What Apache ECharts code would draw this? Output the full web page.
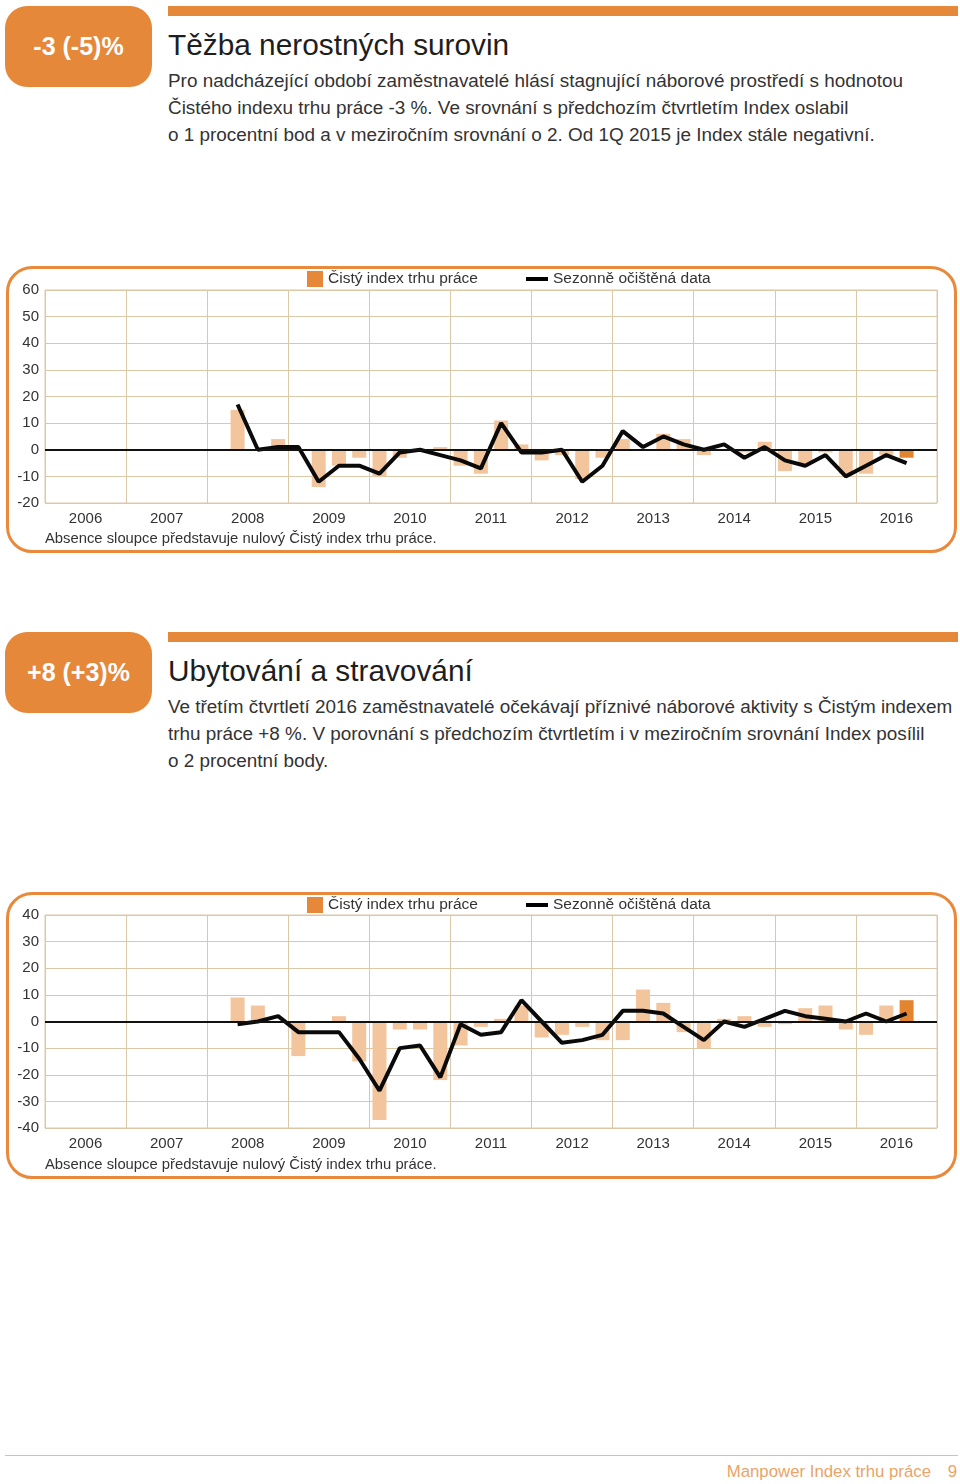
<!DOCTYPE html>
<html>
<head>
<meta charset="utf-8">
<script src="https://cdn.jsdelivr.net/npm/echarts@6/dist/echarts.min.js"></script>
<style>
  html, body { margin:0; padding:0; background:#fff; }
  body { width:960px; height:1484px; position:relative; overflow:hidden;
         font-family:"Liberation Sans", Arial, sans-serif; color:#2a2a2a; }
  .abs { position:absolute; white-space:nowrap; }
  .badge { background:#e5883a; border-radius:22px; color:#fff; font-weight:bold;
           font-size:25px; display:flex; align-items:center; justify-content:center; }
  .topbar { background:#e5883a; }
  .title { font-size:29.8px; color:#1e1e1e; line-height:34px; }
  .para { font-size:18.9px; color:#333; line-height:27px; }
  .box { border:3px solid #e8893c; border-radius:26px; box-sizing:border-box; }
  .note { font-size:14.8px; color:#333; line-height:18px; }
  .chart { position:absolute; left:0; width:960px; height:265px; }
</style>
</head>
<body>
<!-- Section 1 -->
<div class="abs badge" style="left:5px;top:6px;width:147px;height:81px;">-3 (-5)%</div>
<div class="abs topbar" style="left:168px;top:6px;width:790px;height:10px;"></div>
<div class="abs title" style="left:168px;top:28px;">Těžba nerostných surovin</div>
<div class="abs para" style="left:168px;top:67px;">Pro nadcházející období zaměstnavatelé hlásí stagnující náborové prostředí s hodnotou<br>Čistého indexu trhu práce -3 %. Ve srovnání s předchozím čtvrtletím Index oslabil<br>o 1 procentní bod a v meziročním srovnání o 2. Od 1Q 2015 je Index stále negativní.</div>
<div class="abs box" style="left:6px;top:266px;width:951px;height:287px;"></div>
<div id="c1" class="chart" style="top:266px;"></div>
<div class="abs note" style="left:45px;top:529px;">Absence sloupce představuje nulový Čistý index trhu práce.</div>

<!-- Section 2 -->
<div class="abs badge" style="left:5px;top:632px;width:147px;height:81px;">+8 (+3)%</div>
<div class="abs topbar" style="left:168px;top:632px;width:790px;height:10px;"></div>
<div class="abs title" style="left:168px;top:654px;">Ubytování a stravování</div>
<div class="abs para" style="left:168px;top:693px;">Ve třetím čtvrtletí 2016 zaměstnavatelé očekávají příznivé náborové aktivity s Čistým indexem<br>trhu práce +8 %. V porovnání s předchozím čtvrtletím i v meziročním srovnání Index posílil<br>o 2 procentní body.</div>
<div class="abs box" style="left:6px;top:892px;width:951px;height:287px;"></div>
<div id="c2" class="chart" style="top:892px;"></div>
<div class="abs note" style="left:45px;top:1155px;">Absence sloupce představuje nulový Čistý index trhu práce.</div>

<!-- Footer -->
<div class="abs" style="left:5px;top:1455px;width:953px;height:1px;background:#f0b98a;"></div>
<div class="abs" style="right:29px;top:1462px;font-size:16.8px;color:#e9a468;">Manpower Index trhu práce</div>
<div class="abs" style="right:3px;top:1462px;font-size:16.8px;color:#e9a468;">9</div>

<script>
// ---------- DATA ----------
const years = ['2006','2007','2008','2009','2010','2011','2012','2013','2014','2015','2016'];
const quarters = ['Q1','Q2','Q3','Q4'];
// values from 2008 Q2 to 2016 Q3
const mining_nei = [15, 0, 4,
  0, -14, -6, -3,
  -10, -3, 0, 1,
  -6, -9, 11, 2,
  -4, -2, -11, -3,
  4, 0, 6, 4,
  -2, 0, -1, 3,
  -8, -5, -1, -9,
  -9, -2, -3];
const mining_sa = [17, 0, 1,
  1, -12, -6, -6,
  -9, -1, 0, -2,
  -4, -7, 10, -1,
  -1, 0, -12, -6,
  7, 1, 5, 2,
  0, 2, -3, 1,
  -4, -6, -2, -10,
  -6, -2, -5];
const hotel_nei = [9, 6, 0,
  -13, 0, 2, -15,
  -37, -3, -3, -22,
  -9, -2, 1, 6,
  -6, -5, -2, -7,
  -7, 12, 7, -4,
  -10, 1, 2, -2,
  -1, 5, 6, -3,
  -5, 6, 8];
const hotel_sa = [-1, 0, 2,
  -4, -4, -4, -14,
  -26, -10, -9, -21,
  -1, -5, -4, 8,
  0, -8, -7, -5,
  4, 4, 3, -2,
  -7, 0, -2, 1,
  4, 2, 1, 0,
  3, 0, 3];
const mining_yTicks = {min:-20, max:60, interval:10};
const hotel_yTicks = {min:-40, max:40, interval:10};
const firstQuarterIndex = 9; // 2008 Q2 in the full 2006 Q1..2016 Q4 list
const nameBar = 'Čistý index trhu práce';
const nameLine = 'Sezonně očištěná data';

// ---------- BUILD ----------
const qCats = [];
years.forEach(y => quarters.forEach(q => qCats.push(y + ' ' + q)));

function pad(arr) {
  const out = new Array(qCats.length).fill(null);
  arr.forEach((v, i) => { out[firstQuarterIndex + i] = v; });
  return out;
}

const LIGHT = '#f3c59c';
const DARK = '#e3842f';
const GRIDC = '#dac8a6';

function makeChart(el, nei, sa, yt, gridTop, legendTop) {
  const chart = echarts.init(document.getElementById(el), null, {renderer:'canvas'});
  const barData = pad(nei).map((v, i) => {
    if (v === null) return null;
    const last = i === firstQuarterIndex + nei.length - 1;
    return last ? {value:v, itemStyle:{color:DARK}} : v;
  });
  chart.setOption({
    animation:false,
    textStyle:{fontFamily:'"Liberation Sans", Arial, sans-serif'},
    legend:[
      {left:302, top:legendTop, itemWidth:16, itemHeight:16, icon:'rect',
       textStyle:{fontSize:15.5, color:'#333'},
       data:[{name:nameBar, itemStyle:{color:'#e5883a'}}]},
      {left:521, top:legendTop, itemWidth:22, itemHeight:4, icon:'rect',
       textStyle:{fontSize:15.5, color:'#333', lineHeight:16},
       data:[{name:nameLine, itemStyle:{color:'#000'}}]}
    ],
    grid:{left:45, right:23, top:gridTop, height:213, show:true,
          borderColor:GRIDC, borderWidth:1, containLabel:false},
    xAxis:[
      {type:'category', data:qCats, show:false, boundaryGap:true},
      {type:'category', data:years, position:'bottom', boundaryGap:true,
       axisLine:{show:false}, axisTick:{show:false},
       axisLabel:{fontSize:15, color:'#333', margin:8},
       splitLine:{show:true, lineStyle:{color:GRIDC, width:1}}}
    ],
    yAxis:{type:'value', min:yt.min, max:yt.max, interval:yt.interval,
       axisLine:{show:false}, axisTick:{show:false},
       axisLabel:{fontSize:15, color:'#333', margin:6},
       splitLine:{show:true, lineStyle:{color:GRIDC, width:1}}},
    series:[
      {name:nameBar, type:'bar', xAxisIndex:0, data:barData, barWidth:14,
       itemStyle:{color:LIGHT}, z:2,
       markLine:{silent:true, symbol:'none', label:{show:false},
         lineStyle:{color:'#111', width:2, type:'solid'},
         data:[{yAxis:0}]}},
      {name:nameLine, type:'line', xAxisIndex:0, data:pad(sa), symbol:'none',
       connectNulls:false, lineStyle:{color:'#0a0a0a', width:4},
       itemStyle:{color:'#000'}, z:4}
    ]
  });
}

makeChart('c1', mining_nei, mining_sa, mining_yTicks, 24, 0);
makeChart('c2', hotel_nei, hotel_sa, hotel_yTicks, 23, 0);
</script>
</body>
</html>
